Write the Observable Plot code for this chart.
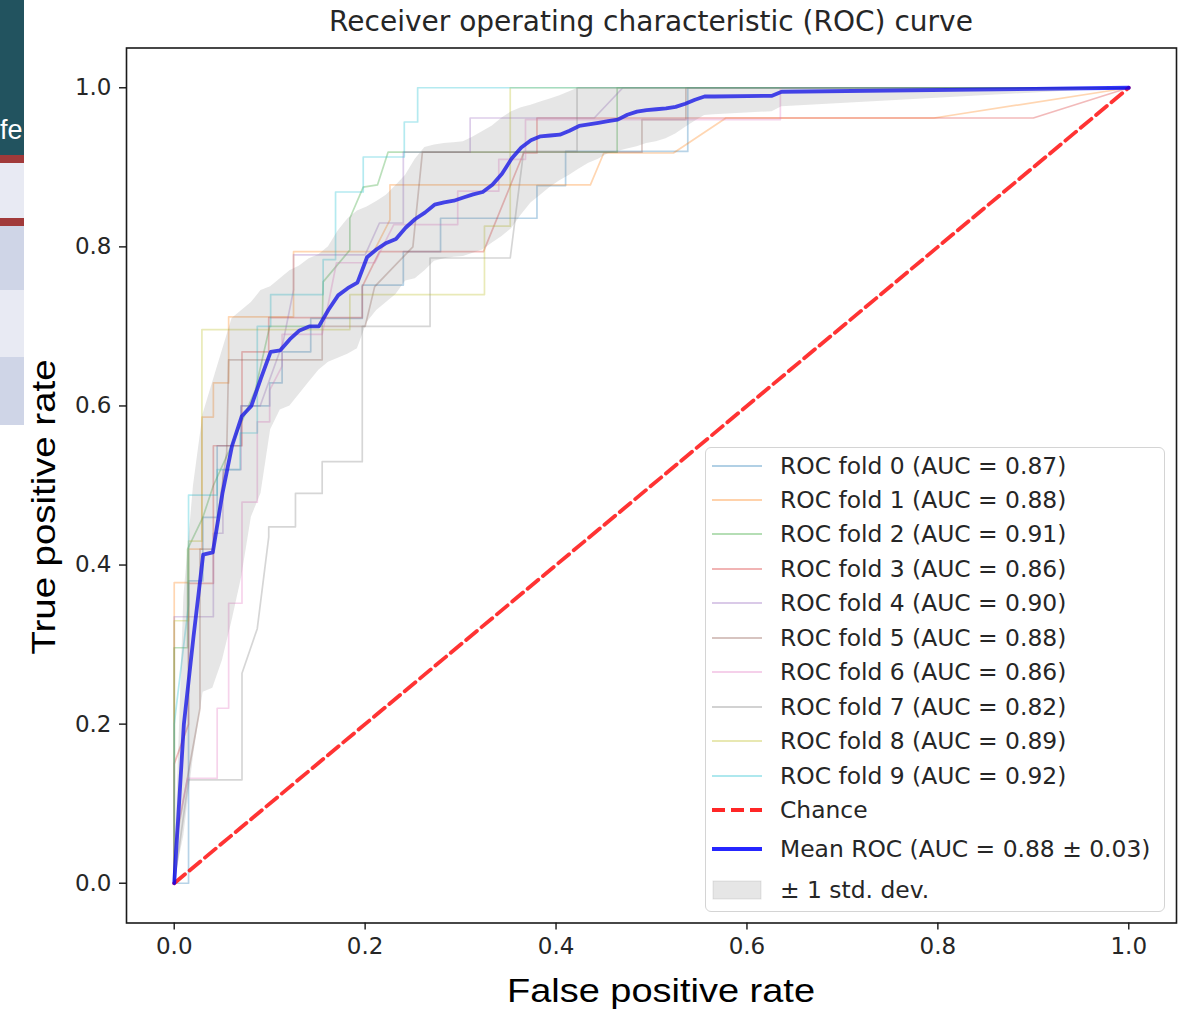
<!DOCTYPE html>
<html>
<head>
<meta charset="utf-8">
<script src="https://cdn.jsdelivr.net/npm/d3@7"></script>
<script src="https://cdn.jsdelivr.net/npm/@observablehq/plot@0.6"></script>
<style>
  html, body { margin: 0; padding: 0; background: #fff; }
  #page { position: relative; width: 1183px; height: 1010px; overflow: hidden; background: #fff; font-family: "DejaVu Sans", sans-serif; }
  #chart { position: absolute; left: 0; top: 0; }
  .slide { position: absolute; left: 0; width: 24px; overflow: hidden; }
  #title { position: absolute; left: 126px; width: 1050px; top: 6px; text-align: center; font-size: 28px; line-height: 32px; color: #262626; font-family: "DejaVu Sans", sans-serif; }
  #legend { position: absolute; left: 705px; top: 447px; width: 458px; height: 463px; border: 1.6px solid #d4d4d4; border-radius: 6px; background: rgba(255,255,255,0.8); }
  .row { position: absolute; left: 0; height: 30px; display: flex; align-items: center; font-size: 23.4px; color: #262626; white-space: nowrap; }
  .row svg { margin-left: 6px; margin-right: 18px; }
</style>
</head>
<body>
<div id="page">
  <div class="slide" style="top:0;height:155px;background:#22535f;"><span style="position:absolute;left:0;top:115px;color:#fff;font-family:'Liberation Sans',sans-serif;font-size:27px;line-height:30px;">fe</span></div>
  <div class="slide" style="top:155px;height:8px;background:#a13a3a;"></div>
  <div class="slide" style="top:163px;height:55px;background:#e8eaf3;"></div>
  <div class="slide" style="top:218px;height:8px;background:#a13a3a;"></div>
  <div class="slide" style="top:226px;height:64px;background:#cfd5e7;"></div>
  <div class="slide" style="top:290px;height:67px;background:#e8eaf3;"></div>
  <div class="slide" style="top:357px;height:68px;background:#cfd5e7;"></div>
  <div id="chart"></div>
  <div id="title"></div>
  <div id="legend"></div>
  <svg id="labels" width="1183" height="1010" style="position:absolute;left:0;top:0;pointer-events:none;"></svg>
</div>
<script>
// ---------- data ----------
const title = "Receiver operating characteristic (ROC) curve";
const xLabel = "False positive rate";
const yLabel = "True positive rate";
const xTicks = [0, 0.2, 0.4, 0.6, 0.8, 1.0];
const yTicks = [0, 0.2, 0.4, 0.6, 0.8, 1.0];
const foldNames = ["ROC fold 0","ROC fold 1","ROC fold 2","ROC fold 3","ROC fold 4","ROC fold 5","ROC fold 6","ROC fold 7","ROC fold 8","ROC fold 9"];
const foldAUC = [0.87, 0.88, 0.91, 0.86, 0.90, 0.88, 0.86, 0.82, 0.89, 0.92];
const foldColors = ["#1f77b4","#ff7f0e","#2ca02c","#d62728","#9467bd","#8c564b","#e377c2","#7f7f7f","#bcbd22","#17becf"];
const meanAUC = 0.88, stdAUC = 0.03;

// [fpr, tpr] points of each fold
const fold0 = [[0,0],[.015,0],[.015,.38],[.03,.38],[.03,.46],[.045,.46],[.045,.55],[.07,.55],[.07,.60],[.1,.60],[.1,.629],[.113,.629],[.113,.668],[.143,.668],[.143,.71],[.197,.71],[.197,.752],[.24,.752],[.24,.794],[.279,.794],[.279,.836],[.38,.836],[.38,.877],[.41,.877],[.41,.92],[.538,.92],[.538,1],[1,1]];
const fold1 = [[0,0],[0,.378],[.015,.378],[.015,.42],[.029,.42],[.029,.586],[.041,.586],[.041,.629],[.057,.629],[.057,.712],[.125,.712],[.125,.794],[.209,.794],[.226,.834],[.226,.878],[.436,.878],[.45,.918],[.523,.918],[.578,.962],[.796,.962],[1,1]];
const fold2 = [[0,0],[0,.296],[.014,.296],[.014,.42],[.03,.46],[.041,.50],[.06,.55],[.085,.62],[.1,.70],[.155,.70],[.156,.756],[.184,.796],[.184,.836],[.198,.875],[.213,.878],[.224,.919],[.464,.919],[.464,1],[1,1]];
const fold3 = [[0,0],[0,.15],[.015,.2],[.015,.377],[.041,.377],[.041,.55],[.071,.55],[.071,.668],[.099,.668],[.099,.711],[.197,.711],[.197,.75],[.215,.794],[.324,.794],[.366,.918],[.38,.918],[.38,.962],[.90,.962],[1,1]];
const fold4 = [[0,0],[0,.335],[.041,.335],[.041,.44],[.051,.44],[.051,.52],[.07,.52],[.07,.60],[.09,.60],[.114,.68],[.125,.746],[.125,.79],[.2,.79],[.215,.83],[.24,.83],[.24,.919],[.31,.919],[.31,.962],[.44,.962],[.47,1],[1,1]];
const fold5 = [[0,0],[0,.04],[.027,.22],[.027,.42],[.041,.42],[.055,.542],[.057,.658],[.155,.658],[.155,.70],[.2,.70],[.21,.75],[.25,.80],[.26,.919],[.49,.919],[.49,.96],[.536,.96],[.536,1],[1,1]];
const fold6 = [[0,0],[0,.05],[.014,.132],[.045,.132],[.045,.22],[.057,.22],[.057,.352],[.071,.352],[.071,.479],[.087,.479],[.087,.58],[.1,.58],[.1,.62],[.113,.65],[.113,.69],[.155,.69],[.17,.78],[.21,.78],[.23,.828],[.297,.828],[.297,.87],[.34,.87],[.34,.91],[.368,.91],[.368,.96],[.635,.96],[.635,1],[1,1]];
const fold7 = [[0,0],[.015,.13],[.071,.13],[.071,.264],[.087,.32],[.099,.435],[.099,.448],[.127,.448],[.127,.49],[.155,.49],[.155,.53],[.197,.53],[.197,.70],[.268,.70],[.268,.786],[.352,.786],[.366,.92],[.422,.92],[.422,1],[1,1]];
const fold8 = [[0,0],[0,.33],[.015,.33],[.015,.43],[.029,.43],[.029,.696],[.184,.696],[.184,.74],[.325,.74],[.325,.826],[.352,.826],[.352,1],[1,1]];
const fold9 = [[0,0],[0,.2],[.015,.35],[.015,.488],[.045,.488],[.045,.52],[.069,.52],[.069,.566],[.087,.566],[.087,.70],[.101,.70],[.101,.74],[.156,.74],[.156,.784],[.169,.784],[.169,.869],[.198,.869],[.198,.913],[.241,.913],[.241,.957],[.255,.957],[.255,1],[1,1]];

const chanceFpr = [0, 1];
const chanceTpr = [0, 1];

const meanFpr = [0,.0101,.0202,.0303,.0404,.0505,.0606,.0707,.0808,.0909,.1010,.1111,.1212,.1313,.1414,.1515,.1616,.1717,.1818,.1919,.2020,.2121,.2222,.2323,.2424,.2525,.2626,.2727,.2828,.2929,.3030,.3131,.3232,.3333,.3434,.3535,.3636,.3737,.3838,.3939,.4040,.4141,.4242,.4343,.4444,.4545,.4646,.4747,.4848,.4949,.5051,.5152,.5253,.5354,.5455,.5556,.5657,.6263,.6364,1.0];
const meanTpr = [0,.20,.31,.413,.416,.49,.55,.587,.60,.635,.668,.670,.684,.695,.700,.700,.721,.739,.748,.755,.787,.797,.805,.810,.824,.835,.843,.853,.856,.858,.862,.866,.869,.878,.892,.911,.925,.934,.939,.940,.941,.946,.952,.954,.956,.958,.960,.966,.970,.972,.973,.974,.976,.980,.985,.989,.989,.990,.995,1.0];
const stdLower = [0,.06,.16,.24,.245,.28,.33,.385,.46,.49,.57,.595,.60,.615,.63,.645,.655,.66,.665,.672,.705,.72,.73,.74,.757,.76,.77,.782,.785,.787,.788,.792,.796,.805,.813,.823,.84,.855,.865,.875,.883,.89,.898,.905,.91,.917,.92,.923,.926,.93,.932,.936,.942,.95,.958,.965,.966,.97,.976,1.0];
const stdUpper = [0,.36,.50,.59,.63,.67,.71,.72,.73,.745,.75,.76,.77,.776,.785,.79,.80,.82,.835,.845,.85,.857,.865,.877,.89,.91,.925,.928,.93,.931,.932,.938,.945,.952,.962,.97,.975,.978,.982,.986,.99,.995,1,1,1,1,1,1,1,1,1,1,1,1,1,1,1,1,1,1];

// ---------- build ----------
const folds = [fold0, fold1, fold2, fold3, fold4, fold5, fold6, fold7, fold8, fold9];
const chance = chanceFpr.map((x, i) => ({x, y: chanceTpr[i]}));
const meanRoc = meanFpr.map((x, i) => ({x, y: meanTpr[i], lo: stdLower[i], hi: stdUpper[i]}));

const foldMarks = folds.map((f, i) =>
  Plot.line(f, {x: d => d[0], y: d => d[1], stroke: foldColors[i], strokeOpacity: 0.32, strokeWidth: 1.7})
);

const chart = Plot.plot({
  width: 1183,
  height: 1010,
  marginLeft: 126,
  marginRight: 7,
  marginTop: 47.5,
  marginBottom: 87.5,
  style: {fontFamily: "DejaVu Sans", fontSize: "23px", color: "#262626", background: "transparent"},
  x: {domain: [-0.05, 1.05]},
  y: {domain: [-0.05, 1.05]},
  marks: [
    ...foldMarks,
    Plot.line(chance, {x: "x", y: "y", stroke: "red", strokeOpacity: 0.8, strokeWidth: 3.8, strokeDasharray: "14,6"}),
    Plot.line(meanRoc, {x: "x", y: "y", stroke: "blue", strokeOpacity: 0.8, strokeWidth: 3.8}),
    Plot.areaY(meanRoc, {x: "x", y1: "lo", y2: "hi", fill: "grey", fillOpacity: 0.2}),
    Plot.axisX({ticks: xTicks, tickFormat: d3.format(".1f"), tickSize: 7, tickPadding: 8, label: null, fontSize: 23, strokeWidth: 1.5}),
    Plot.axisY({ticks: yTicks, tickFormat: d3.format(".1f"), tickSize: 7, tickPadding: 8, label: null, fontSize: 23, strokeWidth: 1.5}),
    Plot.frame({stroke: "#1a1a1a", strokeWidth: 1.6})
  ]
});
document.getElementById("chart").appendChild(chart);
document.getElementById("title").textContent = title;

// big axis labels
const lab = d3.select("#labels");
lab.append("text")
  .attr("x", 661).attr("y", 1002)
  .attr("text-anchor", "middle")
  .attr("textLength", 308).attr("lengthAdjust", "spacingAndGlyphs")
  .style("font-family", "'Liberation Sans Narrow', 'Liberation Sans', sans-serif")
  .style("font-size", "34px").style("fill", "#000")
  .text(xLabel);
lab.append("text")
  .attr("transform", "translate(55,507) rotate(-90)")
  .attr("text-anchor", "middle")
  .attr("textLength", 295).attr("lengthAdjust", "spacingAndGlyphs")
  .style("font-family", "'Liberation Sans Narrow', 'Liberation Sans', sans-serif")
  .style("font-size", "34px").style("fill", "#000")
  .text(yLabel);

// legend
const legend = document.getElementById("legend");
const rowTops = [18, 52, 86, 121, 155, 190, 224, 259, 293, 328, 362, 401, 442];
const entries = foldNames.map((n, i) => ({type: "fold", color: foldColors[i], text: `${n} (AUC = ${foldAUC[i].toFixed(2)})`}));
entries.push({type: "chance", text: "Chance"});
entries.push({type: "mean", text: `Mean ROC (AUC = ${meanAUC.toFixed(2)} \u00b1 ${stdAUC.toFixed(2)})`});
entries.push({type: "std", text: "\u00b1 1 std. dev."});
entries.forEach((e, i) => {
  const row = document.createElement("div");
  row.className = "row";
  row.style.top = (rowTops[i] - 15) + "px";
  let sw = "";
  if (e.type === "fold") sw = `<line x1="0" x2="50" y1="10" y2="10" stroke="${e.color}" stroke-opacity="0.35" stroke-width="2"/>`;
  if (e.type === "chance") sw = `<line x1="0" x2="50" y1="10" y2="10" stroke="red" stroke-opacity="0.85" stroke-width="3.8" stroke-dasharray="13,6"/>`;
  if (e.type === "mean") sw = `<line x1="0" x2="50" y1="10" y2="10" stroke="blue" stroke-opacity="0.85" stroke-width="3.8"/>`;
  if (e.type === "std") sw = `<rect x="1" y="1" width="48" height="18" fill="grey" fill-opacity="0.2" stroke="grey" stroke-opacity="0.2"/>`;
  row.innerHTML = `<svg width="50" height="20">${sw}</svg><span>${e.text}</span>`;
  legend.appendChild(row);
});
</script>
</body>
</html>
